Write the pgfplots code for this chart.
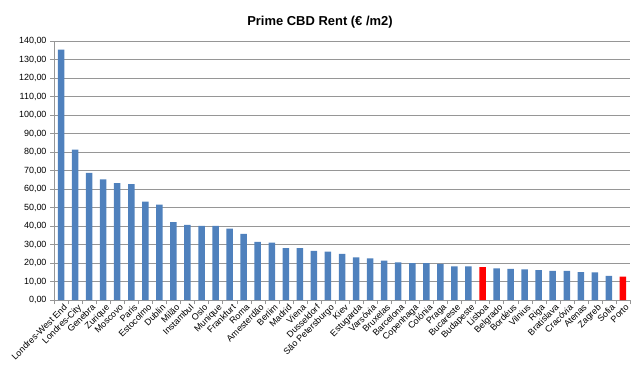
\documentclass[border=0pt]{standalone}
\usepackage{pgfplots}
\pgfplotsset{compat=1.18}
\usepackage{fontspec}
\setmainfont{Liberation Sans}
\definecolor{barblue}{RGB}{79,129,189}
\definecolor{gridgray}{RGB}{150,150,150}
\begin{document}
\begin{tikzpicture}[x=1bp,y=1bp]
\useasboundingbox (0,0) rectangle (640,367);
\node[font=\fontsize{13}{15}\selectfont\bfseries] at (320,344.5) {Prime CBD Rent (€ /m2)};
\begin{axis}[
  at={(54bp,67bp)}, anchor=south west,
  scale only axis, width=576bp, height=259bp,
  xmin=-0.5, xmax=40.5, ymin=0, ymax=140,
  ytick={0,10,...,140},
  xtick={0,...,40},
  xticklabels={Londres-West End,Londres-City,Genebra,Zurique,Moscovo,Paris,Estocolmo,Dublin,Milão,Instambul,Oslo,Munique,Frankfurt,Roma,Amesterdão,Berlim,Madrid,Viena,Dusseldorf,São Petersburgo,Kiev,Estugarda,Varsóvia,Bruxelas,Barcelona,Copenhaga,Colónia,Praga,Bucareste,Budapeste,Lisboa,Belgrado,Bordéus,Vilnius,Riga,Bratislava,Cracóvia,Atenas,Zagreb,Sofia,Porto},
  minor xtick={-0.5,0.5,...,40.5},
  x tick label style={rotate=45, anchor=north east, font=\fontsize{9}{10}\selectfont, inner sep=1pt, xshift=3bp},
  y tick label style={font=\fontsize{9}{10}\selectfont},
  /pgf/number format/assume math mode=true,
  yticklabel={\pgfmathprintnumber[fixed,fixed zerofill,precision=2,use comma]{\tick}},
  axis lines*=left,
  axis line style={gridgray},
  ymajorgrids, major grid style={gridgray, line width=0.6bp},
  major x tick style={draw=none},
  minor x tick style={gridgray},
  major y tick style={gridgray},
  tick align=outside,
  major tick length=4bp, minor tick length=4bp,
  ybar, bar width=6.5bp, bar shift=0pt,
  clip=false,
]
\addplot[fill=barblue, draw=none] coordinates {
(0,135.3) (1,81.3) (2,68.7) (3,65.2) (4,63.2) (5,62.6) (6,53.2) (7,51.5) (8,42.1) (9,40.6)
(10,40.1) (11,40.1) (12,38.6) (13,35.8) (14,31.4) (15,31.0) (16,28.1) (17,28.1) (18,26.5) (19,26.1)
(20,24.9) (21,23.0) (22,22.5) (23,21.3) (24,20.4) (25,20.0) (26,20.0) (27,19.5) (28,18.2) (29,18.2)
(31,17.1) (32,16.8) (33,16.5) (34,16.1) (35,15.7) (36,15.7) (37,15.1) (38,15.0) (39,13.0)
};
\addplot[fill=red, draw=none] coordinates {(30,17.8) (40,12.6)};
\end{axis}
\end{tikzpicture}
\end{document}
